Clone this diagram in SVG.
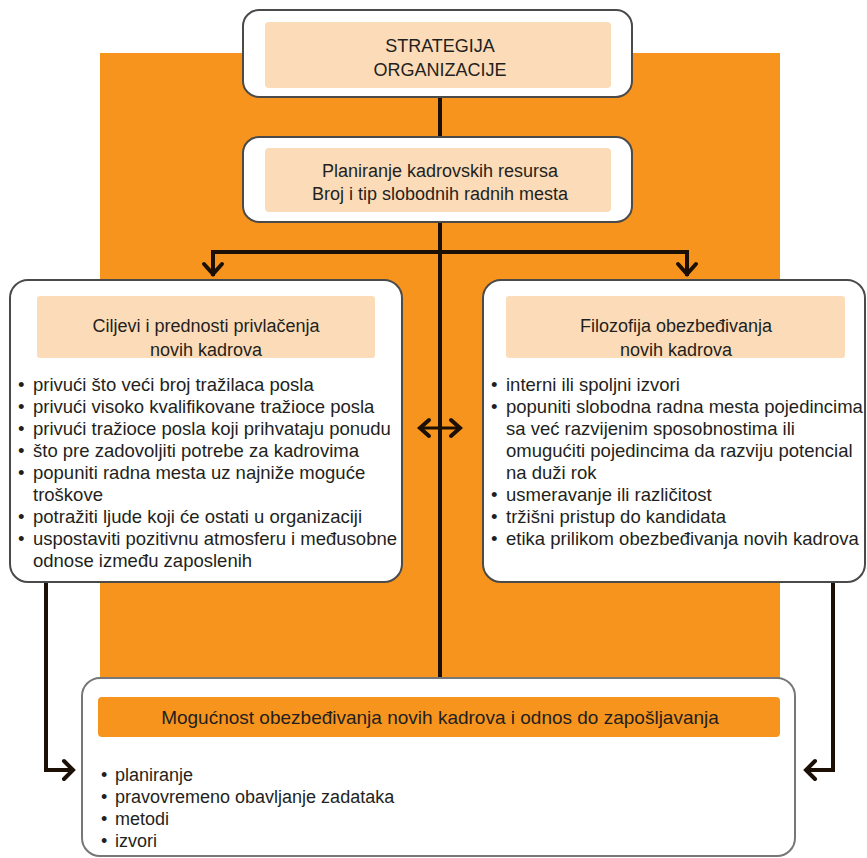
<svg xmlns="http://www.w3.org/2000/svg" width="867" height="858" viewBox="0 0 867 858">
<defs>
<style>
.box{fill:#fff;stroke:#4a4a4a;stroke-width:2}
.peach{fill:#fcdcb8}
.org{fill:#f7941d}
.t{font-family:"Liberation Sans",Arial,sans-serif;font-size:18px;fill:#231f20}
.b{font-size:18.5px}
.h{font-size:19px}
.c{text-anchor:middle}
.ln{fill:none;stroke:#1c0f05;stroke-width:4}
.hd{fill:none;stroke:#1c0f05;stroke-width:4;stroke-linecap:round;stroke-linejoin:miter}
</style>
</defs>
<rect width="867" height="858" fill="#fff"/>
<rect class="org" x="100" y="53" width="680" height="630"/>

<g id="connectors">
<line class="ln" x1="440" y1="97" x2="440" y2="137"/>
<line class="ln" x1="440" y1="222" x2="440" y2="680"/>
<polyline class="ln" points="213,276 213,252 687,252 687,276"/>
<polyline class="hd" points="204,264 213,274 222,264"/>
<polyline class="hd" points="678,264 687,274 696,264"/>
<line class="ln" x1="421" y1="428" x2="459" y2="428" style="stroke-width:3"/>
<polyline class="hd" points="429,420 420,428 429,436"/>
<polyline class="hd" points="451,420 460,428 451,436"/>
<polyline class="ln" points="46,582 46,770 74,770"/>
<polyline class="hd" points="64,761 73,770 64,779"/>
<polyline class="ln" points="833,582 833,770 806,770"/>
<polyline class="hd" points="815,761 806,770 815,779"/>
</g>

<g id="strategija">
<rect class="box" x="243" y="10" width="389" height="87" rx="16"/>
<rect class="peach" x="265" y="22" width="346" height="66" rx="4"/>
<text class="t c" x="440" y="52">STRATEGIJA</text>
<text class="t c" x="440" y="76">ORGANIZACIJE</text>
</g>

<g id="planiranje">
<rect class="box" x="243" y="137" width="389" height="85" rx="16"/>
<rect class="peach" x="265" y="148" width="346" height="64" rx="4"/>
<text class="t c" x="440" y="177">Planiranje kadrovskih resursa</text>
<text class="t c" x="440" y="200">Broj i tip slobodnih radnih mesta</text>
</g>

<g id="ciljevi">
<rect class="box" x="10" y="280" width="392" height="302" rx="18"/>
<rect class="peach" x="37" y="296" width="338" height="62" rx="3"/>
<text class="t c" x="206" y="332">Ciljevi i prednosti privlačenja</text>
<text class="t c" x="206" y="356">novih kadrova</text>
<text class="t b" x="18" y="391">•<tspan x="33">privući što veći broj tražilaca posla</tspan></text>
<text class="t b" x="18" y="413">•<tspan x="33">privući visoko kvalifikovane tražioce posla</tspan></text>
<text class="t b" x="18" y="435">•<tspan x="33">privući tražioce posla koji prihvataju ponudu</tspan></text>
<text class="t b" x="18" y="457">•<tspan x="33">što pre zadovoljiti potrebe za kadrovima</tspan></text>
<text class="t b" x="18" y="479">•<tspan x="33">popuniti radna mesta uz najniže moguće</tspan></text>
<text class="t b" x="33" y="501">troškove</text>
<text class="t b" x="18" y="523">•<tspan x="33">potražiti ljude koji će ostati u organizaciji</tspan></text>
<text class="t b" x="18" y="545">•<tspan x="33">uspostaviti pozitivnu atmosferu i međusobne</tspan></text>
<text class="t b" x="33" y="567">odnose između zaposlenih</text>
</g>

<g id="filozofija">
<rect class="box" x="483" y="280" width="382" height="302" rx="18"/>
<rect class="peach" x="506" y="296" width="339" height="62" rx="3"/>
<text class="t c" x="676" y="332">Filozofija obezbeđivanja</text>
<text class="t c" x="676" y="356">novih kadrova</text>
<text class="t b" x="491" y="391">•<tspan x="506">interni ili spoljni izvori</tspan></text>
<text class="t b" x="491" y="413">•<tspan x="506">popuniti slobodna radna mesta pojedincima</tspan></text>
<text class="t b" x="506" y="435">sa već razvijenim sposobnostima ili</text>
<text class="t b" x="506" y="457">omugućiti pojedincima da razviju potencial</text>
<text class="t b" x="506" y="479">na duži rok</text>
<text class="t b" x="491" y="501">•<tspan x="506">usmeravanje ili različitost</tspan></text>
<text class="t b" x="491" y="523">•<tspan x="506">tržišni pristup do kandidata</tspan></text>
<text class="t b" x="491" y="545">•<tspan x="506">etika prilikom obezbeđivanja novih kadrova</tspan></text>
</g>

<g id="mogucnost">
<rect class="box" x="82" y="678" width="713" height="178" rx="18" style="stroke:#777"/>
<rect class="org" x="98" y="697" width="682" height="40" rx="4"/>
<text class="t c h" x="440" y="724">Mogućnost obezbeđivanja novih kadrova i odnos do zapošljavanja</text>
<text class="t" x="101" y="781">•<tspan x="115">planiranje</tspan></text>
<text class="t" x="101" y="803">•<tspan x="115">pravovremeno obavljanje zadataka</tspan></text>
<text class="t" x="101" y="825">•<tspan x="115">metodi</tspan></text>
<text class="t" x="101" y="847">•<tspan x="115">izvori</tspan></text>
</g>
</svg>
